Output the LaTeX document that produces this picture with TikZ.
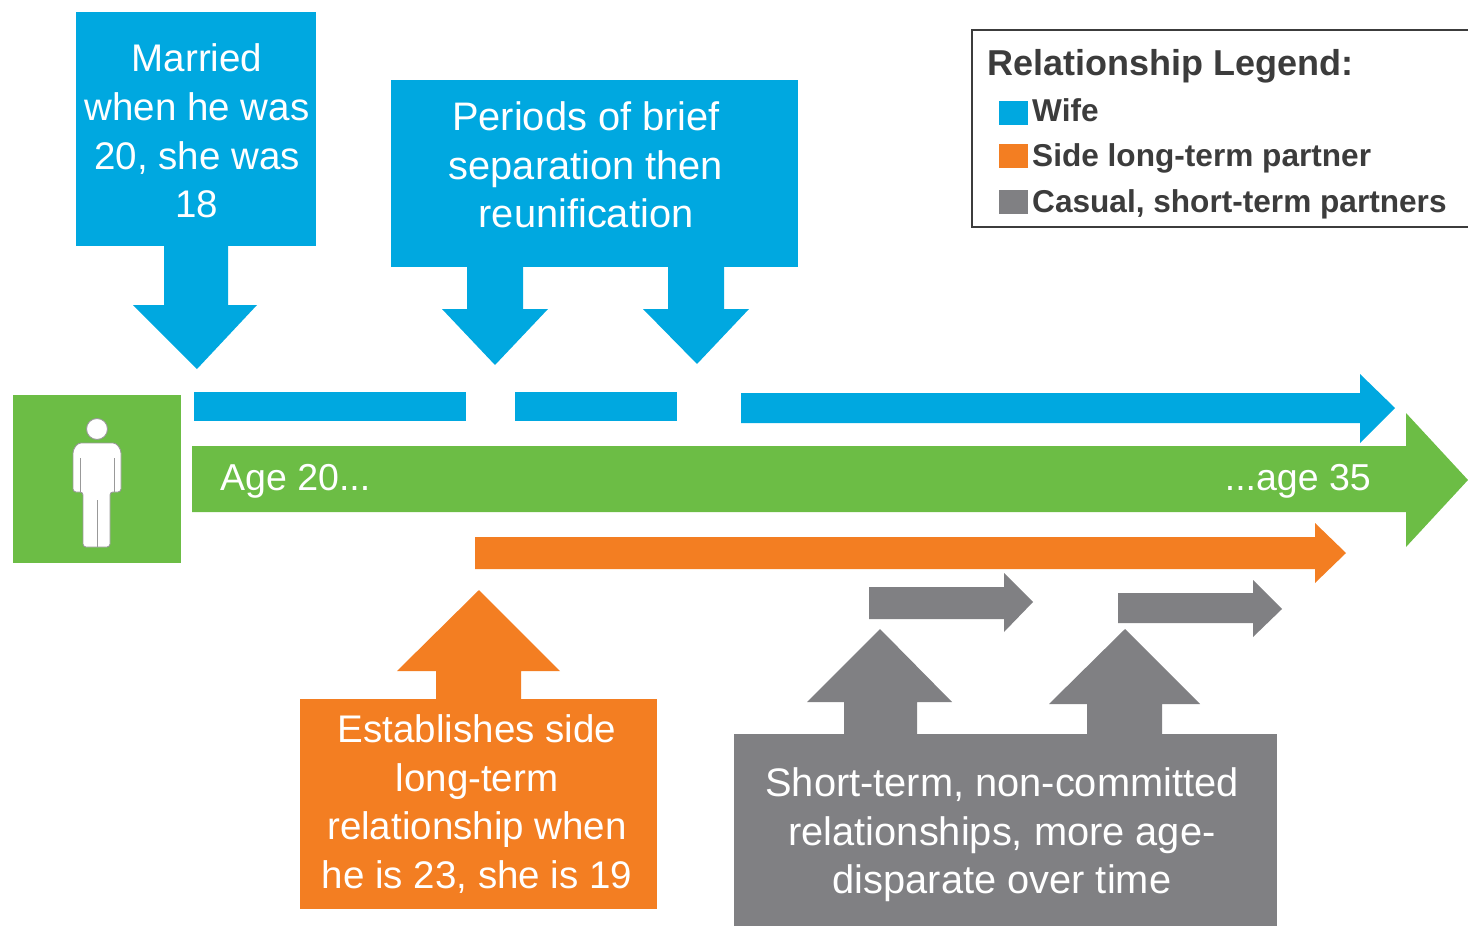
\documentclass[tikz,border=0pt]{standalone}
\usepackage{fontspec}
\setmainfont{Liberation Sans}
\definecolor{cblue}{RGB}{0,168,224}
\definecolor{corange}{RGB}{243,126,34}
\definecolor{cgreen}{RGB}{108,189,69}
\definecolor{cgray}{RGB}{128,128,131}
\definecolor{ctext}{RGB}{60,60,60}
\tikzset{
  bluefill/.style={fill=cblue, draw=none},
  orangefill/.style={fill=corange, draw=none},
  greenfill/.style={fill=cgreen, draw=none},
  grayfill/.style={fill=cgray, draw=none},
  boxtext/.style={text=white, align=center, inner sep=0pt, font=\fontsize{38.5}{48.7}\selectfont},
  bigboxtext/.style={boxtext, font=\fontsize{39.8}{48.7}\selectfont},
  agetext/.style={text=white, inner sep=0pt, font=\fontsize{37.5}{44}\selectfont},
  legtitle/.style={text=ctext, inner sep=0pt, font=\fontsize{36}{40}\selectfont\bfseries},
  legentry/.style={text=ctext, inner sep=0pt, font=\fontsize{31.6}{36}\selectfont\bfseries},
  iconpart/.style={fill=white, draw=black!40, line width=0.9pt}
}
\begin{document}
\begin{tikzpicture}[x=1pt,y=-1pt]
\useasboundingbox (0,0) rectangle (1468,926);

% ---- top blue boxes and down arrows
\fill[bluefill] (76,12) rectangle (316,246);
\fill[bluefill] (164,245) -- (228,245) -- (228,305) -- (257,305) -- (197,369) -- (133,305) -- (164,305) -- cycle;
\node[boxtext] (married) at (197,131) {Married\\when he was\\20, she was\\18};

\fill[bluefill] (391,80) rectangle (798,267);
\fill[bluefill] (467,266) -- (523,266) -- (523,309) -- (548,309) -- (495,365) -- (442,309) -- (467,309) -- cycle;
\fill[bluefill] (668,266) -- (724,266) -- (724,309) -- (749,309) -- (697,364) -- (643,309) -- (668,309) -- cycle;
\node[bigboxtext] (periods) at (586,165) {Periods of brief\\separation then\\reunification};

% ---- wife timeline
\fill[bluefill] (194,392) rectangle (466,421);
\fill[bluefill] (515,392) rectangle (677,421);
\fill[bluefill] (741,393) -- (1360,393) -- (1360,374) -- (1395,408) -- (1360,443) -- (1360,423) -- (741,423) -- cycle;

% ---- green person square and age arrow
\fill[greenfill] (13,395) rectangle (181,563);
\fill[greenfill] (192,446) -- (1406,446) -- (1406,413) -- (1468,480) -- (1406,547) -- (1406,512) -- (192,512) -- cycle;
\node[agetext, anchor=base west] (age20) at (220,490) {Age 20...};
\node[agetext, anchor=base east] (age35) at (1371,490) {...age 35};

% person icon
\draw[iconpart, rounded corners=3pt] (73,492) -- (73,450) -- (78,443) -- (116,443) -- (121,450) -- (121,492) -- (110,492) -- (110,547) -- (83,547) -- (83,492) -- cycle;
\draw[black!40, line width=0.9pt] (80,458) -- (80,492) (114,458) -- (114,492) (97,500) -- (97,547);
\draw[iconpart] (97,429) circle (10.5);

% ---- side partner arrow
\fill[orangefill] (475,537) -- (1315,537) -- (1315,523) -- (1346,553) -- (1315,583) -- (1315,569) -- (475,569) -- cycle;

% ---- casual arrows
\fill[grayfill] (869,587) -- (1004,587) -- (1004,573) -- (1033,602) -- (1004,632) -- (1004,619) -- (869,619) -- cycle;
\fill[grayfill] (1118,593) -- (1253,593) -- (1253,580) -- (1282,609) -- (1253,637) -- (1253,623) -- (1118,623) -- cycle;

% ---- orange box with up arrow
\fill[orangefill] (300,699) rectangle (657,909);
\fill[orangefill] (436,700) -- (436,671) -- (397,671) -- (479,590) -- (560,671) -- (521,671) -- (521,700) -- cycle;
\node[boxtext] (side) at (477,804) {Establishes side\\long-term\\relationship when\\he is 23, she is 19};

% ---- gray box with up arrows
\fill[grayfill] (734,734) rectangle (1277,930);
\fill[grayfill] (844,735) -- (844,702) -- (807,702) -- (880,629) -- (952,702) -- (917,702) -- (917,735) -- cycle;
\fill[grayfill] (1087,735) -- (1087,704) -- (1049,704) -- (1125,629) -- (1200,704) -- (1162,704) -- (1162,735) -- cycle;
\node[bigboxtext] (casual) at (1002,835) {Short-term, non-committed\\relationships, more age-\\disparate over time};

% ---- legend
\draw[ctext, line width=1.3pt] (1480,30) -- (972,30) -- (972,227) -- (1480,227);
\node[legtitle, anchor=base west] (legt) at (987,75) {Relationship Legend:};
\fill[bluefill] (999,101) rectangle (1028,125);
\node[legentry, anchor=base west] (legw) at (1032,121) {Wife};
\fill[orangefill] (999,144) rectangle (1028,168);
\node[legentry, anchor=base west] (legs) at (1032,166) {Side long-term partner};
\fill[grayfill] (999,190) rectangle (1028,214);
\node[legentry, anchor=base west] (legc) at (1032,212) {Casual, short-term partners};
\end{tikzpicture}
\end{document}
